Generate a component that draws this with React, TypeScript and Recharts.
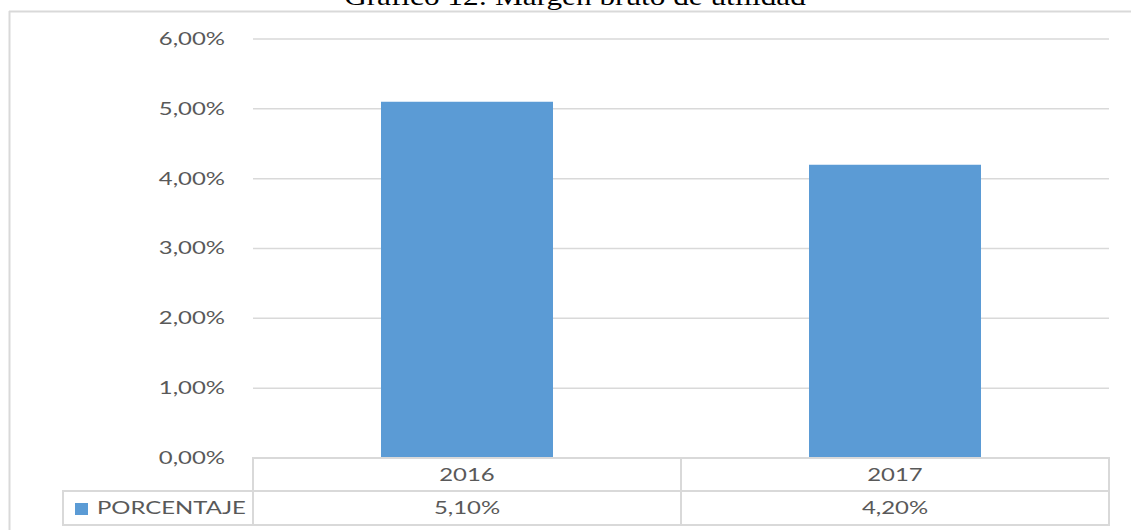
import { BarChart, Bar, XAxis, YAxis, CartesianGrid } from "recharts";

const years = ["2016", "2017"];
const porcentaje = [5.1, 4.2];
const yTicks = [0, 1, 2, 3, 4, 5, 6];
const seriesName = "PORCENTAJE";
const title = "Gráfico 12: Margen bruto de utilidad";

const data = years.map((year, i) => ({ year, porcentaje: porcentaje[i] }));

const W = 1131;
const H = 530;
const AXIS_W = 253;
const RIGHT = 22;
const band = (W - AXIS_W - RIGHT) / years.length;
const BLUE = "#5b9bd5";
const GRID = "#d9d9d9";
const TEXT = "#595959";
const FONT = "Lato, 'Open Sans', sans-serif";
const SX = 1.33;

const fmt = (v: number) => v.toFixed(2).replace(".", ",") + "%";

// stretched text, like the source image
const Stretch = ({ x, y, anchor, children, size = 18 }: any) => (
  <text
    x={x}
    y={y}
    textAnchor={anchor}
    fontFamily={FONT}
    fontSize={size}
    fill={TEXT}
    transform={`translate(${x},0) scale(${SX},1) translate(${-x},0)`}
  >
    {children}
  </text>
);

const YTick = ({ x, y, payload }: any) => (
  <Stretch x={x} y={y + 6} anchor="end">
    {fmt(payload.value)}
  </Stretch>
);

const TableTick = ({ x, y, payload, index }: any) => {
  const left = x - band / 2;
  const rowH = 33;
  return (
    <g>
      <rect x={left} y={y} width={band} height={rowH} fill="none" stroke={GRID} strokeWidth={2} />
      <rect x={left} y={y + rowH} width={band} height={rowH + 1} fill="none" stroke={GRID} strokeWidth={2} />
      <Stretch x={x} y={y + 23} anchor="middle">
        {payload.value}
      </Stretch>
      <Stretch x={x} y={y + rowH + 23} anchor="middle">
        {fmt(porcentaje[index])}
      </Stretch>
      {index === 0 && (
        <g>
          <rect x={63} y={y + rowH} width={left - 63} height={rowH + 1} fill="none" stroke={GRID} strokeWidth={2} />
          <rect x={75} y={y + rowH + 12} width={13} height={12} fill={BLUE} />
          <Stretch x={97} y={y + rowH + 23} anchor="start">
            {seriesName}
          </Stretch>
        </g>
      )}
    </g>
  );
};

export default function App() {
  return (
    <div style={{ position: "fixed", left: 0, top: 0, width: W, height: H, background: "#fff", overflow: "hidden" }}>
      <svg width={W} height={H} style={{ position: "absolute", left: 0, top: 0 }}>
        <text
          x={575}
          y={5}
          textAnchor="middle"
          fontFamily="'Liberation Serif', 'Times New Roman', serif"
          fontSize={25}
          fill="#000"
          transform={`translate(575,0) scale(1.25,1) translate(-575,0)`}
        >
          {title}
        </text>
        <line x1={9} y1={11.5} x2={W} y2={11.5} stroke={GRID} strokeWidth={2} />
        <line x1={9.5} y1={11} x2={9.5} y2={H} stroke={GRID} strokeWidth={2} />
      </svg>
      <div style={{ position: "absolute", left: 0, top: 0 }}>
        <BarChart width={W} height={H} data={data} margin={{ top: 39, right: RIGHT, left: 0, bottom: 0 }} barSize={172}>
          <CartesianGrid vertical={false} stroke={GRID} strokeWidth={1.5} />
          <YAxis
            width={AXIS_W}
            domain={[0, 6]}
            ticks={yTicks}
            interval={0}
            axisLine={false}
            tickLine={false}
            tickSize={0}
            tickMargin={28}
            tick={<YTick />}
          />
          <XAxis
            dataKey="year"
            height={72}
            axisLine={false}
            tickLine={false}
            tickSize={0}
            tickMargin={0}
            interval={0}
            tick={<TableTick />}
          />
          <Bar dataKey="porcentaje" fill={BLUE} isAnimationActive={false} />
        </BarChart>
      </div>
    </div>
  );
}
